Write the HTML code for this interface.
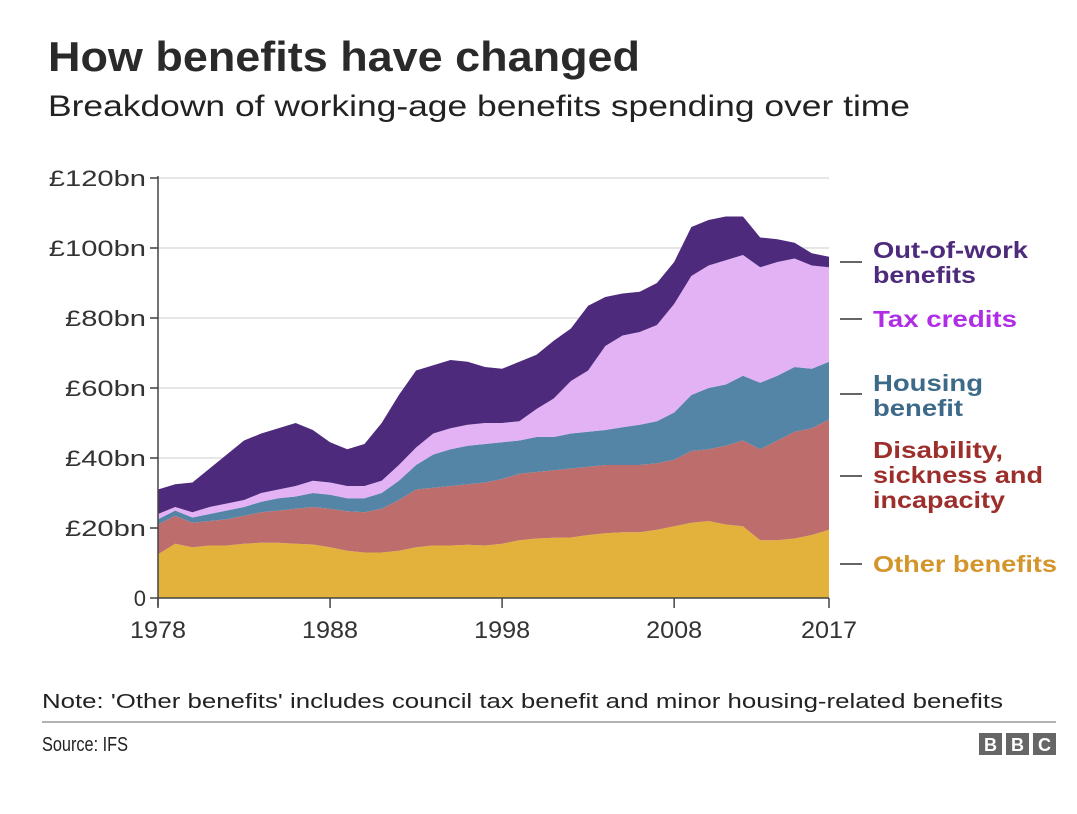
<!DOCTYPE html>
<html><head><meta charset="utf-8"><style>
body{margin:0;background:#fff;width:1077px;height:809px;overflow:hidden;font-family:"Liberation Sans",Arial,sans-serif;color:#222}
</style></head><body>
<svg width="1077" height="809" id="svg" font-family="Liberation Sans, Arial, sans-serif">
<text x="48" y="71" font-size="42" font-weight="bold" fill="#2a2a2a" textLength="592" lengthAdjust="spacingAndGlyphs">How benefits have changed</text>
<text x="48" y="116" font-size="30" fill="#222" textLength="862" lengthAdjust="spacingAndGlyphs">Breakdown of working-age benefits spending over time</text>
<g id="grid"></g><g id="areas"></g><g id="axes"></g><g id="legend"></g>
<text x="42" y="708" font-size="20" fill="#222" textLength="961" lengthAdjust="spacingAndGlyphs">Note: 'Other benefits' includes council tax benefit and minor housing-related benefits</text>
<line x1="42" y1="722" x2="1056" y2="722" stroke="#999" stroke-width="1.5"/>
<text x="42" y="751" font-size="20" fill="#222" textLength="86" lengthAdjust="spacingAndGlyphs">Source: IFS</text>
<g>
<rect x="979" y="733" width="23" height="22" fill="#666"/><rect x="1006" y="733" width="23" height="22" fill="#666"/><rect x="1033" y="733" width="23" height="22" fill="#666"/>
<text x="990.5" y="751" font-size="18" font-weight="bold" fill="#fff" text-anchor="middle">B</text>
<text x="1017.5" y="751" font-size="18" font-weight="bold" fill="#fff" text-anchor="middle">B</text>
<text x="1044.5" y="751" font-size="18" font-weight="bold" fill="#fff" text-anchor="middle">C</text>
</g>
</svg>
<script>
const years=[];for(let y=1978;y<=2017;y++)years.push(y);
const otherBenefits=[12.5,15.5,14.5,15,15,15.5,15.8,15.8,15.5,15.3,14.5,13.5,13,13,13.5,14.5,15,15,15.2,15,15.5,16.5,17,17.2,17.3,18,18.5,18.8,18.8,19.5,20.5,21.5,22,21,20.5,16.5,16.5,17,18,19.5];
const disability=[8.5,8,7,7,7.5,8,8.7,9.2,10,10.7,11,11.3,11.5,12.5,14.5,16.5,16.5,17,17.3,18,18.5,19,19,19.3,19.7,19.5,19.5,19.2,19.2,19,19,20.5,20.5,22.5,24.5,26,28.5,30.5,30.5,31.5];
const housing=[1.5,1.5,1.5,2,2.5,2.5,3,3.5,3.5,4,4,3.7,4,4.5,5.5,7,9.5,10.5,11,11,10.5,9.5,10,9.5,10,10,10,10.8,11.5,12,13.5,16,17.5,17.5,18.5,19,18.5,18.5,17,16.5];
const taxCredits=[1.5,1,1.5,2,2,2,2.5,2.5,3,3.5,3.5,3.5,3.5,3.5,4.5,5,6,6,6,6,5.5,5.5,8,11,15,17.5,24,26.2,26.5,27.5,31,34,35,35.5,34.5,33,32.5,31,29.5,27];
const outOfWork=[7,6.5,8.5,11,14,17,17,17.5,18,14.5,11.5,10.5,12,16.5,20,22,19.5,19.5,18,16,15.5,17,15.5,16.5,15,18.5,14,12,11.5,12,12,14,13,12.5,11,8.5,6.5,4.5,3.5,3];
const yTicks=[0,20,40,60,80,100,120];
const yTickLabels=["0","£20bn","£40bn","£60bn","£80bn","£100bn","£120bn"];
const xTicks=[1978,1988,1998,2008,2017];

const NS="http://www.w3.org/2000/svg";
const X0=158,X1=829,Y0=598,Y1=178;
const xs=y=>X0+(y-1978)/(2017-1978)*(X1-X0);
const ys=v=>Y0-v/120*(Y0-Y1);
function mk(tag,attrs,parent){const e=document.createElementNS(NS,tag);for(const k in attrs)e.setAttribute(k,attrs[k]);parent.appendChild(e);return e;}
const grid=document.getElementById('grid'),areas=document.getElementById('areas'),axes=document.getElementById('axes'),legend=document.getElementById('legend');
yTicks.forEach((t,i)=>{
 if(t>0){const g=mk('line',{x1:150,x2:X1,y1:ys(t),y2:ys(t),stroke:'#ddd','stroke-width':1.5},grid);
 
 }
 const tk=mk('line',{x1:150,x2:X0,y1:ys(t),y2:ys(t),stroke:'#444','stroke-width':1.5},axes);
 
 
 const lab=yTickLabels[i];
 const attrs={x:146,y:ys(t)+8,'font-size':22,'text-anchor':'end',fill:'#333'};
 if(lab.length>1){attrs.textLength=lab.length*16.2;attrs.lengthAdjust='spacingAndGlyphs';}
 const tx=mk('text',attrs,axes);
 tx.textContent=lab;
 
 
});
const series=[otherBenefits,disability,housing,taxCredits,outOfWork];
const colors=["#e3b23c","#bd6e6c","#5585a6","#e2b2f5","#4e2a7c"];
const keys=["other-benefits","disability","housing-benefit","tax-credits","out-of-work"];
let base=years.map(()=>0);
series.forEach((s,si)=>{
 const top=base.map((b,i)=>b+s[i]);
 let d='M'+years.map((y,i)=>xs(y)+','+ys(top[i])).join('L');
 for(let i=years.length-1;i>=0;i--)d+='L'+xs(years[i])+','+ys(base[i]);
 d+='Z';
 const p=mk('path',{d:d,fill:colors[si]},areas);
 
 
 base=top;
});
const ya=mk('line',{x1:X0,x2:X0,y1:Y1-2,y2:Y0+8,stroke:'#444','stroke-width':1.5},axes);


const xa=mk('line',{x1:X0,x2:X1,y1:Y0,y2:Y0,stroke:'#444','stroke-width':1.5},axes);


xTicks.forEach(t=>{
 const l=mk('line',{x1:xs(t),x2:xs(t),y1:Y0,y2:Y0+10,stroke:'#444','stroke-width':1.5},axes);
 
 
 const tx=mk('text',{x:xs(t),y:Y0+40,'font-size':24,'text-anchor':'middle',fill:'#333',textLength:56,lengthAdjust:'spacingAndGlyphs'},axes);
 tx.textContent=t;
 
 
});
const labels=[
 {lines:["Other benefits"],w:[184],c:"#d4952a",ly:564,ty:572},
 {lines:["Disability,","sickness and","incapacity"],w:[130,170,132],c:"#9c2f2c",ly:476,ty:458},
 {lines:["Housing","benefit"],w:[110,90],c:"#3d6a89",ly:394,ty:391},
 {lines:["Tax credits"],w:[144],c:"#b02de6",ly:319,ty:327},
 {lines:["Out-of-work","benefits"],w:[155,103],c:"#4e2a7c",ly:262,ty:258}];
labels.forEach((L,i)=>{
 const g=mk('g',{},legend);
 
 
 mk('line',{x1:840,x2:862,y1:L.ly,y2:L.ly,stroke:'#333','stroke-width':1.5},g);
 L.lines.forEach((t,j)=>{const tx=mk('text',{x:873,y:L.ty+j*25,'font-size':23,'font-weight':'bold',fill:L.c,textLength:L.w[j],lengthAdjust:'spacingAndGlyphs'},g);tx.textContent=t;});
});
</script>
</body></html>
